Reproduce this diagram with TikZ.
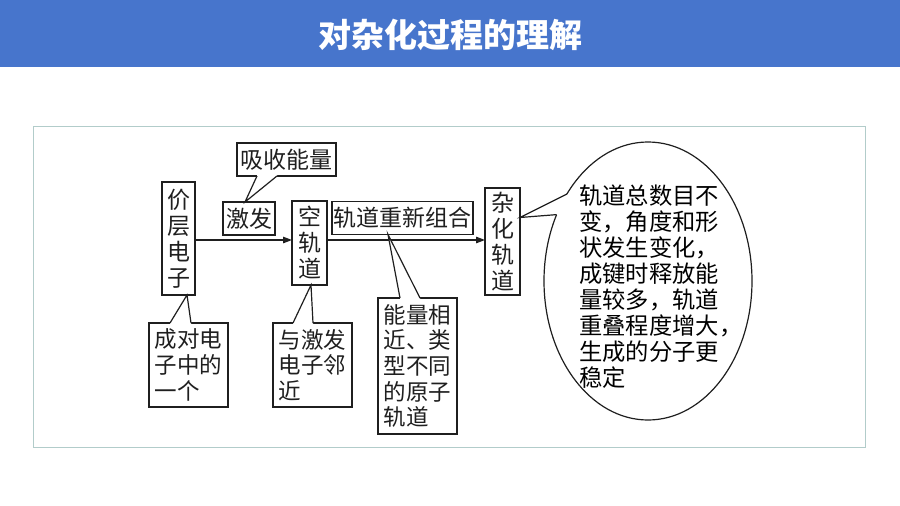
\documentclass[tikz,border=0pt]{standalone}
\usepackage{fontspec}
\newfontfamily\cjk{Noto Sans CJK SC}
\usetikzlibrary{arrows.meta,shapes.geometric,calc}
\definecolor{hdr}{HTML}{4775CC}
\definecolor{framec}{HTML}{B2CCCA}
\tikzset{
  ln/.style={line width=1.2pt, black!88},
  box/.style={draw, ln, fill=white, inner sep=0pt, outer sep=0pt, align=center,
    font=\cjk\fontsize{23}{26}\selectfont},
  lbox/.style={box, align=left, font=\cjk\fontsize{22.5}{25.7}\selectfont},
  arr/.style={ln, -{Triangle[length=9pt,width=6.5pt]}},
  gap/.style={fill=white, draw=none}
}
\begin{document}
\begin{tikzpicture}[x=1pt,y=-1pt]
\useasboundingbox (0,0) rectangle (900,506);
% header
\fill[hdr] (0,0) rectangle (900,67);
\node[text=white, font=\cjk\bfseries\fontsize{33}{38}\selectfont] (title) at (450,35) {对杂化过程的理解};
% frame
\draw[framec, line width=1.4pt] (33.5,126.5) rectangle (865.5,447.5);

% main boxes
\node[box, minimum width=33pt, minimum height=113pt] (val) at (178.5,238.5) {价\\层\\电\\子};
\node[box, minimum width=52pt, minimum height=33pt] (jifa) at (249,218.5) {激发};
\node[box, minimum width=99pt, minimum height=33pt] (xishou) at (286.5,159.5) {吸收能量};
\node[box, minimum width=35pt, minimum height=84pt] (kong) at (309.5,243) {空\\轨\\道};
\node[box, minimum width=141pt, minimum height=33pt] (chongzu) at (402.5,218) {轨道重新组合};
\node[box, minimum width=35pt, minimum height=107pt] (zahua) at (502.5,241.5) {杂\\化\\轨\\道};

% bottom boxes
\node[lbox, minimum width=79pt, minimum height=84pt] (chengdui) at (188.5,365) {成对电\\子中的\\一个};
\node[lbox, minimum width=79pt, minimum height=84pt] (yu) at (312.5,365) {与激发\\电子邻\\近};
\node[lbox, minimum width=79pt, minimum height=136pt] (nengliang) at (417.5,366) {能量相\\近、类\\型不同\\的原子\\轨道};

% ellipse
\node[ellipse, draw, ln, fill=white, minimum width=208pt, minimum height=278pt, inner sep=0pt, outer sep=0pt] (ell) at (648,281) {};
\node[anchor=west, inner sep=0pt, align=left, font=\cjk\fontsize{23.3}{26}\selectfont] (elltxt) at (579,287)
 {轨道总数目不\\变，角度和形\\状发生变化，\\成键时释放能\\量较多，轨道\\重叠程度增大，\\生成的分子更\\稳定};

% arrows
\coordinate (ya) at (0,240);
\draw[arr] (val.east |- ya) -- (kong.west |- ya);
\draw[arr] (kong.east |- ya) -- (zahua.west |- ya);

% callout tails
% xishou -> jifa
\coordinate (a1) at ([xshift=-29.5pt]xishou.south);
\coordinate (b1) at ([xshift=-9.5pt]xishou.south);
\coordinate (t1) at ([xshift=-4pt]jifa.north);
\fill[gap] ([yshift=2pt]a1) -- (a1) -- (t1) -- (b1) -- ([yshift=2pt]b1) -- cycle;
\draw[ln] (a1) -- (t1) -- (b1);
% chengdui -> val
\coordinate (a2) at ([xshift=-18.5pt]chengdui.north);
\coordinate (b2) at ([xshift=2.5pt]chengdui.north);
\coordinate (t2) at ([xshift=8.5pt]val.south);
\fill[gap] ([yshift=-2pt]a2) -- (a2) -- (t2) -- (b2) -- ([yshift=-2pt]b2) -- cycle;
\draw[ln] (a2) -- (t2) -- (b2);
% yu -> kong
\coordinate (a3) at ([xshift=-19.5pt]yu.north);
\coordinate (b3) at ([xshift=0.5pt]yu.north);
\coordinate (t3) at ([xshift=1.5pt]kong.south);
\fill[gap] ([yshift=-2pt]a3) -- (a3) -- (t3) -- (b3) -- ([yshift=-2pt]b3) -- cycle;
\draw[ln] (a3) -- (t3) -- (b3);
% nengliang -> chongzu
\coordinate (a4) at ([xshift=-17.5pt]nengliang.north);
\coordinate (b4) at ([xshift=2.5pt]nengliang.north);
\coordinate (t4) at ([xshift=-14.5pt]chongzu.south);
\fill[gap] ([yshift=-2pt]a4) -- (a4) -- (t4) -- (b4) -- ([yshift=-2pt]b4) -- cycle;
\draw[ln] (a4) -- (t4) -- (b4);
% zahua -> ellipse
\coordinate (a5) at (ell.133.6);
\coordinate (b5) at (ell.144.8);
\coordinate (t5) at ([yshift=24pt]zahua.east);
\fill[gap] ($(a5)!2.5pt!(ell.center)$) -- (a5) -- (t5) -- (b5) -- ($(b5)!2.5pt!(ell.center)$) -- cycle;
\draw[ln] (a5) -- (t5) -- (b5);
\end{tikzpicture}
\end{document}
